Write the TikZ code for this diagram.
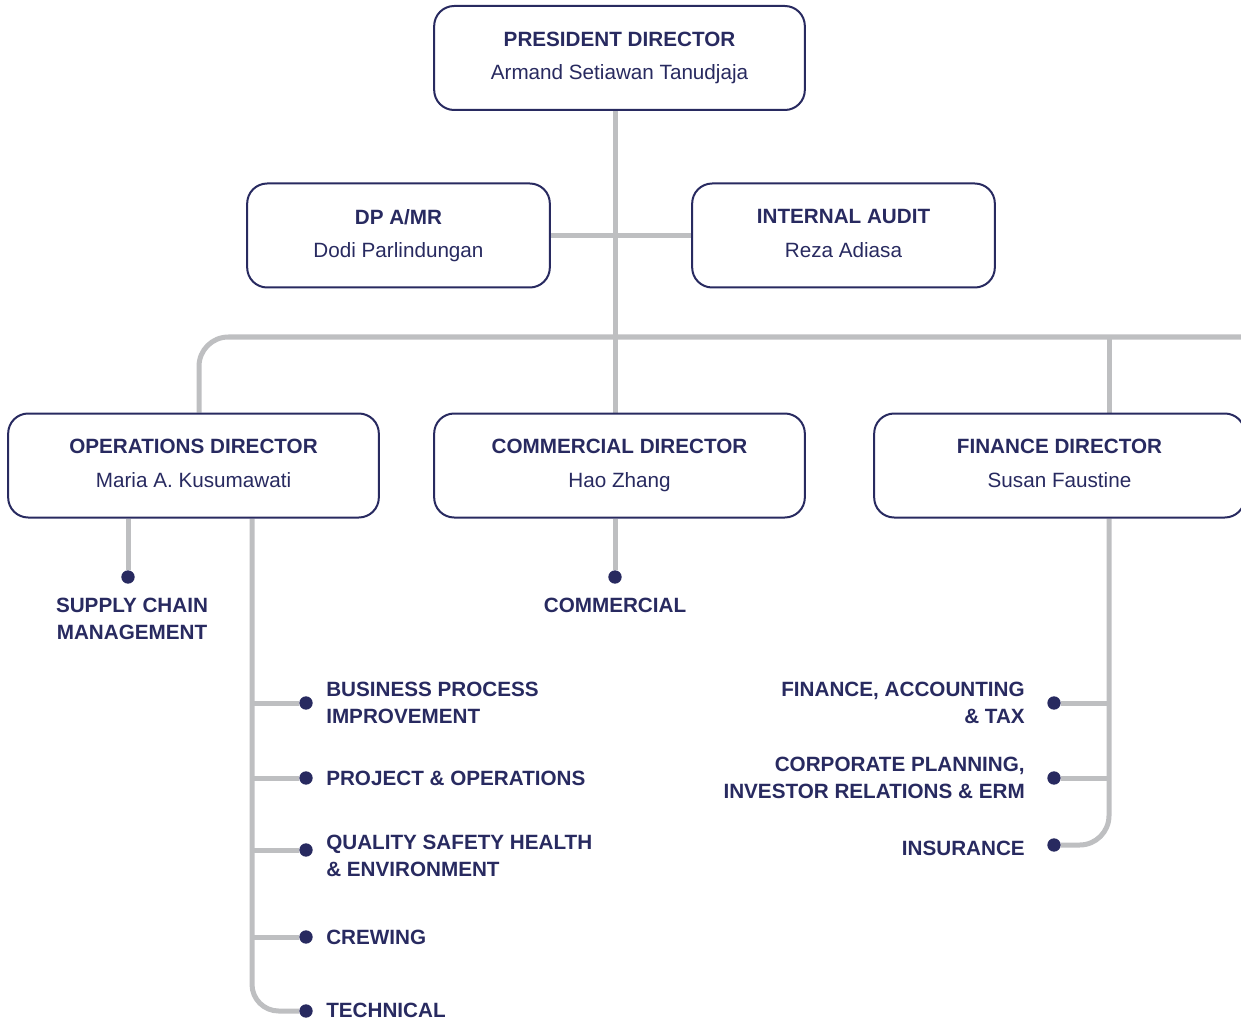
\documentclass[tikz,border=0pt]{standalone}
\usepackage{fontspec}
\setmainfont{Liberation Sans}
\usetikzlibrary{backgrounds}
\definecolor{navy}{HTML}{282A60}
\definecolor{linegray}{HTML}{BEBFC1}

\begin{document}
\begin{tikzpicture}[x=0.75pt,y=-0.75pt,
      every node/.style={text=navy,font=\fontsize{15.5}{20.25}\selectfont},
      post/.style={draw=navy,line width=1.5pt,fill=white,rounded corners=15pt,
        minimum width=278pt,minimum height=78pt,align=center,inner sep=0pt},
      wide/.style={post,minimum width=227pt},
      link/.style={draw=linegray,line width=3.75pt},
      dot/.style={circle,fill=navy,inner sep=0pt,minimum size=10pt},
      unit/.style={inner sep=0pt,font=\bfseries\fontsize{15.5}{20.25}\selectfont}]
			\useasboundingbox (0,0) rectangle (1241,1023);
			\clip (0,0) rectangle (1241,1023);
			% boxes
			\node[post] (pd) at (619.5,58) {\textbf{PRESIDENT DIRECTOR}\\[5pt]Armand Setiawan Tanudjaja\vphantom{g}};
			\node[wide] (dp) at (398.5,235.5) {\textbf{DP A/MR}\\[5pt]Dodi Parlindungan\vphantom{g}};
			\node[wide] (ia) at (843.5,235.5) {\textbf{INTERNAL AUDIT}\\[5pt]Reza Adiasa\vphantom{g}};
			\node[post] (od) at (193.5,465.5) {\textbf{OPERATIONS DIRECTOR}\\[5pt]Maria A. Kusumawati\vphantom{g}};
			\node[post] (cd) at (619.5,465.5) {\textbf{COMMERCIAL DIRECTOR}\\[5pt]Hao Zhang\vphantom{g}};
			\node[post] (fd) at (1059.5,465.5) {\textbf{FINANCE DIRECTOR}\\[5pt]Susan Faustine\vphantom{g}};
			% dots
			\node[dot] (d-scm) at (128,577) {};
			\node[dot] (d-com) at (615,577) {};
			\node[dot] (d-bpi) at (306,703) {};
			\node[dot] (d-pro) at (306,778) {};
			\node[dot] (d-qhs) at (306,850) {};
			\node[dot] (d-crw) at (306,937) {};
			\node[dot] (d-tec) at (306,1011) {};
			\node[dot] (d-fat) at (1054,703) {};
			\node[dot] (d-cpl) at (1054,778) {};
			\node[dot] (d-ins) at (1054,845) {};
			% units
			\node[unit,align=center] (scm) at (132,619) {SUPPLY CHAIN\\MANAGEMENT};
			\node[unit] (com) at (615,605) {COMMERCIAL};
			\node[unit,anchor=west,align=left] (bpi) at (326,703) {BUSINESS PROCESS\\IMPROVEMENT};
			\node[unit,anchor=west] (pro) at (326,778) {PROJECT \& OPERATIONS};
			\node[unit,anchor=west,align=left] (qhs) at (326,856) {QUALITY SAFETY HEALTH\\\& ENVIRONMENT};
			\node[unit,anchor=west] (crw) at (326,937) {CREWING};
			\node[unit,anchor=west] (tec) at (326,1010) {TECHNICAL};
			\node[unit,anchor=east,align=right] (fat) at (1025,703) {FINANCE, ACCOUNTING\\\& TAX};
			\node[unit,anchor=east,align=right] (cpl) at (1025,778) {CORPORATE PLANNING,\\INVESTOR RELATIONS \& ERM};
			\node[unit,anchor=east] (ins) at (1025,848) {INSURANCE};
			% links
			\begin{scope}[on background layer]
				\coordinate (trunk) at (615,0);
				\coordinate (busW) at (199,337);
				\coordinate (busE) at (1241,337);
				\coordinate (finx) at (1109,337);
				\coordinate (spine) at (252,0);
				\draw[link] (pd.south -| trunk) -- (cd.north -| trunk);
				\draw[link] (dp.east) -- (ia.west);
				\draw[link,rounded corners=22pt] (busW |- od.north) |- (busE);
				\draw[link] (finx) -- (finx |- fd.north);
				\draw[link] (d-scm |- od.south) -- (d-scm);
				\draw[link] (d-com |- cd.south) -- (d-com);
				\draw[link,rounded corners=20pt] (spine |- od.south) |- (d-tec);
				\foreach \d in {d-bpi,d-pro,d-qhs,d-crw}
					\draw[link] (spine |- \d) -- (\d);
				\draw[link,rounded corners=22pt] (finx |- fd.south) |- (d-ins);
				\foreach \d in {d-fat,d-cpl}
					\draw[link] (finx |- \d) -- (\d);
			\end{scope}
		\end{tikzpicture}
\end{document}
